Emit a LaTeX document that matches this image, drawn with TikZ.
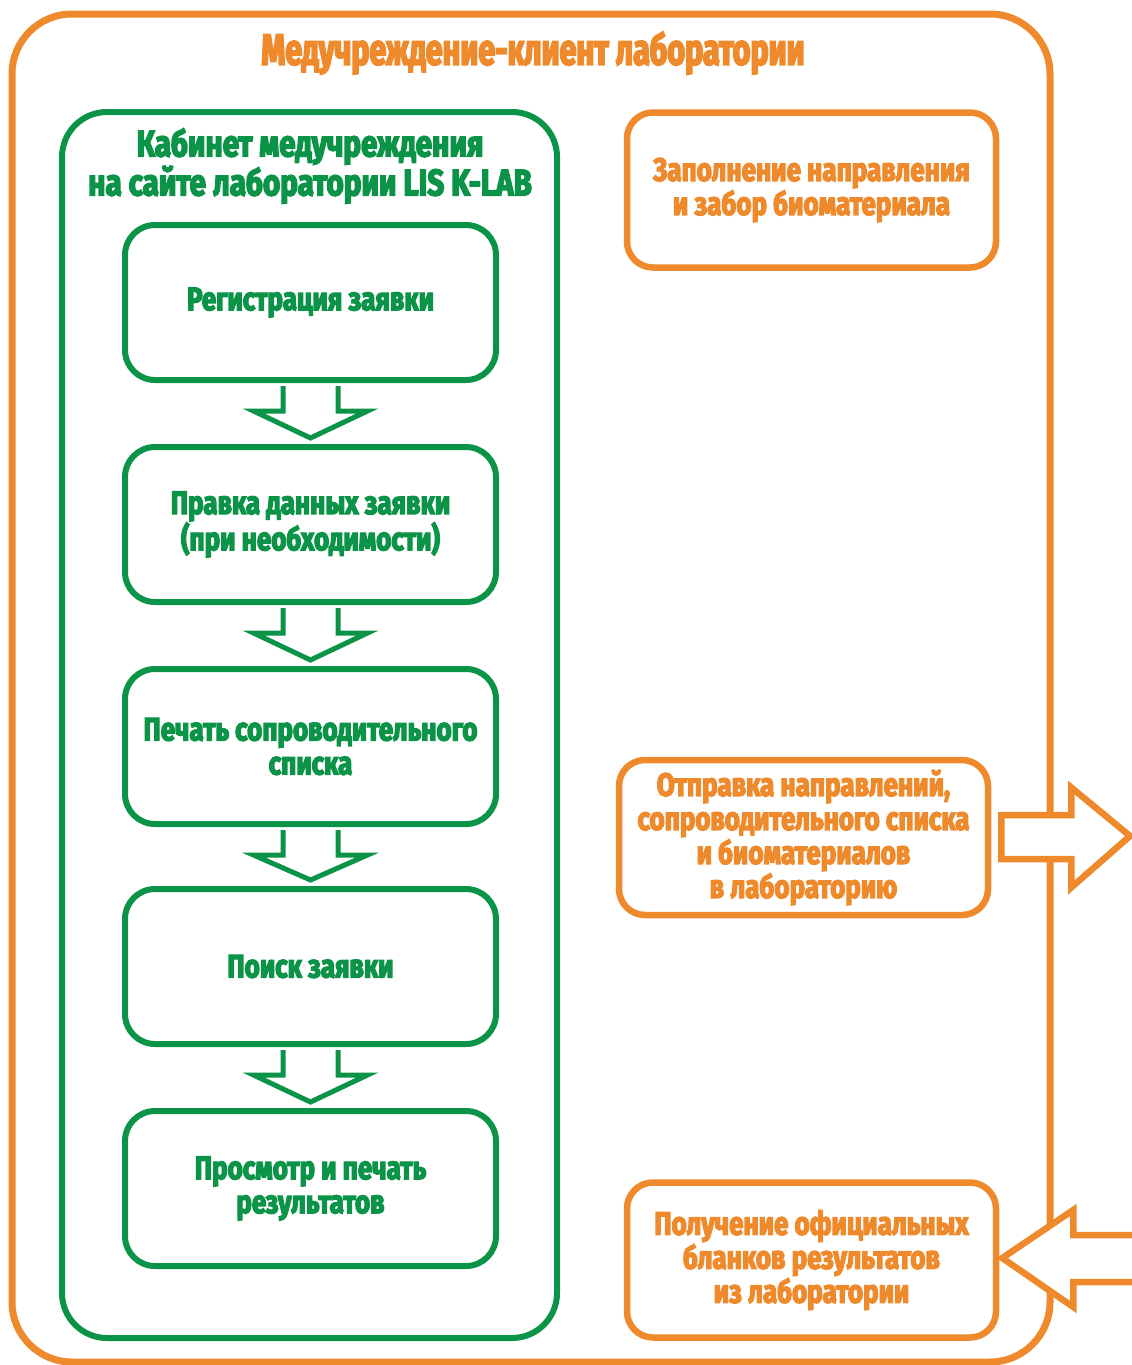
\documentclass[tikz,border=0pt]{standalone}
\usepackage{fontspec}
\newfontfamily\hf[FakeStretch=0.8,FakeBold=4]{Fira Sans}
\newfontfamily\hft[FakeStretch=0.7,FakeBold=4]{Fira Sans}
\usetikzlibrary{calc}
\definecolor{org}{HTML}{EF8A2C}
\definecolor{grn}{HTML}{0B9447}
\begin{document}
\begin{tikzpicture}[x=1pt,y=-1pt,
  gbox/.style={draw=grn, line width=6pt, rounded corners=30pt, minimum width=371pt, minimum height=155pt,
    text=grn, font=\hf\bfseries\fontsize{32.5}{34}\selectfont, align=center, inner sep=0pt},
  obox/.style={draw=org, line width=6.5pt, rounded corners=26pt, minimum width=369pt, minimum height=155pt,
    text=org, font=\hf\bfseries\fontsize{32.5}{34}\selectfont, align=center, inner sep=0pt},
  garrow/.style={draw=grn, fill=white, line width=5pt, line join=miter},
  oarrow/.style={draw=org, fill=white, line width=6.5pt, line join=miter},
  ttl/.style={inner sep=0pt, align=center}]
\useasboundingbox (0,0) rectangle (1132,1365);
% outer client frame
\node[draw=org, line width=7pt, rounded corners=60pt, minimum width=1038pt, minimum height=1348pt, inner sep=0pt] (outer) at (531,688) {};
\node[ttl, text=org, font=\hft\bfseries\fontsize{43.5}{48}\selectfont] (otitle) at (533,53) {Медучреждение-клиент лаборатории};
% green cabinet frame
\node[draw=grn, line width=6pt, rounded corners=45pt, minimum width=495pt, minimum height=1226pt, inner sep=0pt] (cab) at (309.5,725) {};
\node[ttl, text=grn, font=\hf\bfseries\fontsize{37}{39}\selectfont] (gtitle) at (310,166) {Кабинет медучреждения\\на сайте лаборатории LIS K-LAB};
% steps
\node[gbox] (b1) at (310.5,302.5) {Регистрация заявки};
\node[gbox] (b2) at (310.5,524.5) {Правка данных заявки\\(при необходимости)};
\node[gbox] (b3) at (310.5,746.5) {Печать сопроводительного\\списка};
\node[gbox] (b4) at (310.5,966.5) {Поиск заявки};
\node[gbox] (b5) at (310.5,1188.5) {Просмотр и печать\\результатов};
% down block arrows
\foreach \a/\b in {b1/b2,b2/b3,b3/b4,b4/b5}{
  \draw[garrow] ($(\a.south)+(-27.5,3)$) -- ($(\a.south)+(-27.5,28)$) -- ($(\a.south)+(-57,28)$)
    -- ($(\b.north)+(0,-6)$) -- ($(\a.south)+(57,28)$) -- ($(\a.south)+(27.5,28)$) -- ($(\a.south)+(27.5,3)$);
}
% right column
\node[obox] (oa) at (811.5,190) {Заполнение направления\\и забор биоматериала};
\node[obox] (ob) at (803.5,837.5) {Отправка направлений,\\сопроводительного списка\\и биоматериалов\\в лабораторию};
\node[obox] (oc) at (811.5,1260) {Получение официальных\\бланков результатов\\из лаборатории};
\coordinate (outtip) at (1130,836);
\coordinate (inend) at (1145,1258.5);
% outgoing arrow
\draw[oarrow] ($(ob.east)+(10,-22.5)$) -- ($(ob.east)+(80,-22.5)$) -- ($(ob.east)+(80,-50)$) -- (outtip)
  -- ($(ob.east)+(80,50)$) -- ($(ob.east)+(80,21.5)$) -- ($(ob.east)+(10,21.5)$) -- cycle;
% incoming arrow
\draw[oarrow] ($(inend)+(0,-23.5)$) -- ($(oc.east)+(74,-25)$) -- ($(oc.east)+(74,-50)$) -- ($(oc.east)+(3,-2)$)
  -- ($(oc.east)+(74,47)$) -- ($(oc.east)+(74,22)$) -- ($(inend)+(0,23.5)$);
\end{tikzpicture}
\end{document}
